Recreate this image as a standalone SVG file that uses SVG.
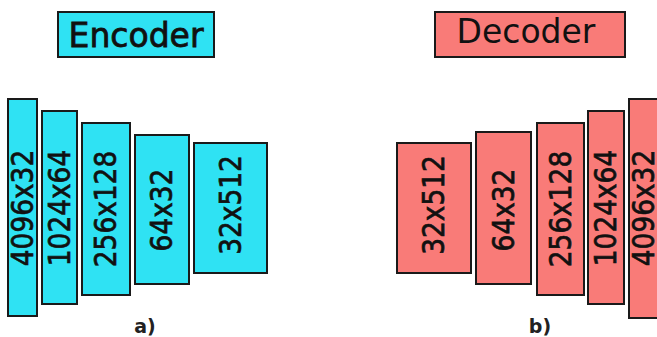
<svg xmlns="http://www.w3.org/2000/svg" width="657" height="337" viewBox="0 0 657 337">
  <style>
    .enc { fill: #2fe2f3; stroke: #1a1a1a; stroke-width: 2; }
    .dec { fill: #f97b78; stroke: #1a1a1a; stroke-width: 2; }
    .title { font-family: "DejaVu Sans", Verdana, sans-serif; font-size: 33px; fill: #111; text-anchor: middle; }
    .dim { font-family: "DejaVu Sans", Verdana, sans-serif; font-size: 30px; fill: #111; stroke: #111; stroke-width: 0.7; text-anchor: middle; dominant-baseline: central; }
    .cap { font-family: "DejaVu Sans", Verdana, sans-serif; font-size: 19px; font-weight: bold; fill: #222; text-anchor: middle; }
  </style>
  <rect width="657" height="337" fill="#ffffff"/>

  <!-- Encoder stack -->
  <g id="encoder-title">
    <rect class="enc" x="58" y="12" width="156" height="45"/>
    <text class="title" x="136" y="47" stroke="#111" stroke-width="0.8">Encoder</text>
  </g>
  <g id="enc-4096x32">
    <rect class="enc" x="8" y="99" width="29" height="217"/>
    <text class="dim" transform="translate(22.5,208) rotate(-90) scale(0.88,1)">4096x32</text>
  </g>
  <g id="enc-1024x64">
    <rect class="enc" x="42" y="111" width="35" height="193"/>
    <text class="dim" transform="translate(59.5,208) rotate(-90) scale(0.88,1)">1024x64</text>
  </g>
  <g id="enc-256x128">
    <rect class="enc" x="82" y="123" width="48" height="172"/>
    <text class="dim" transform="translate(106,209) rotate(-90) scale(0.88,1)">256x128</text>
  </g>
  <g id="enc-64x32">
    <rect class="enc" x="135" y="135" width="54" height="149"/>
    <text class="dim" transform="translate(162,210) rotate(-90) scale(0.88,1)">64x32</text>
  </g>
  <g id="enc-32x512">
    <rect class="enc" x="194" y="143" width="73" height="130"/>
    <text class="dim" transform="translate(230.5,205) rotate(-90) scale(0.88,1)">32x512</text>
  </g>
  <text class="cap" x="145" y="333">a)</text>

  <!-- Decoder stack -->
  <g id="decoder-title">
    <rect class="dec" x="435" y="12" width="190" height="45"/>
    <text class="title" x="526" y="43">Decoder</text>
  </g>
  <g id="dec-32x512">
    <rect class="dec" x="397" y="143" width="74" height="130"/>
    <text class="dim" transform="translate(434,205) rotate(-90) scale(0.88,1)">32x512</text>
  </g>
  <g id="dec-64x32">
    <rect class="dec" x="476" y="132" width="55" height="152"/>
    <text class="dim" transform="translate(503.5,210) rotate(-90) scale(0.88,1)">64x32</text>
  </g>
  <g id="dec-256x128">
    <rect class="dec" x="537" y="123" width="47" height="172"/>
    <text class="dim" transform="translate(560.5,209) rotate(-90) scale(0.88,1)">256x128</text>
  </g>
  <g id="dec-1024x64">
    <rect class="dec" x="588" y="111" width="36" height="193"/>
    <text class="dim" transform="translate(606,208) rotate(-90) scale(0.88,1)">1024x64</text>
  </g>
  <g id="dec-4096x32">
    <rect class="dec" x="629" y="99" width="30" height="219"/>
    <text class="dim" transform="translate(644,208) rotate(-90) scale(0.88,1)">4096x32</text>
  </g>
  <text class="cap" x="540" y="333">b)</text>
</svg>
